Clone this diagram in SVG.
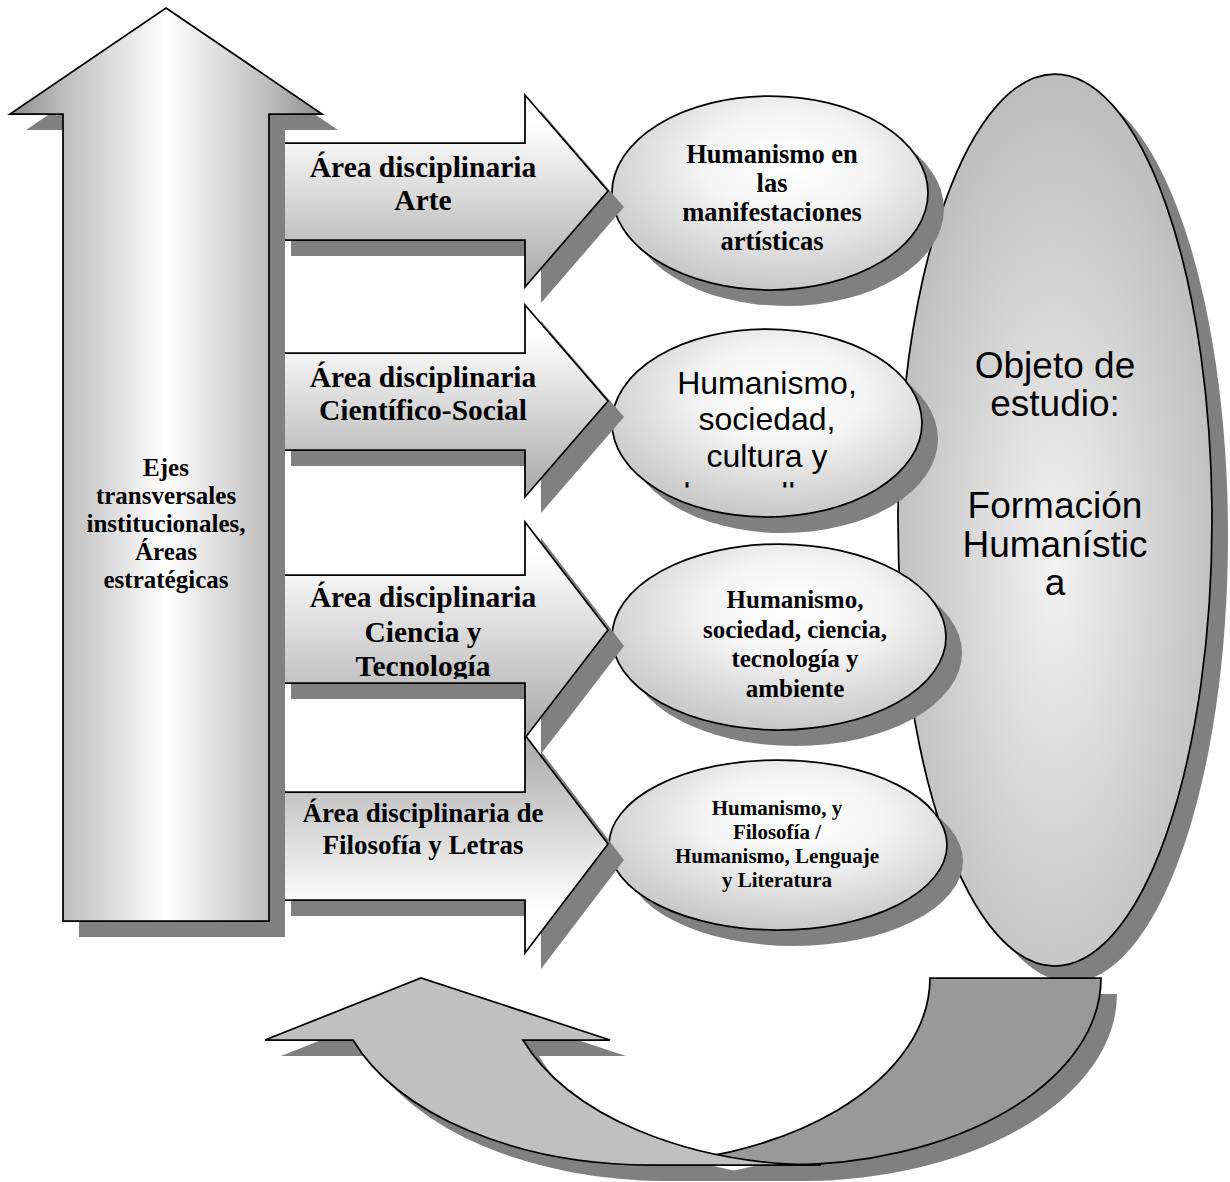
<svg xmlns="http://www.w3.org/2000/svg" width="1230" height="1182" viewBox="0 0 1230 1182">
<style>
.out{stroke:#000;stroke-width:1.75;stroke-linejoin:miter}
.sh{fill:#808080;stroke:none}
.ser{font-family:"Liberation Serif","Times New Roman",serif;font-weight:bold;text-anchor:middle;fill:#000}
.san{font-family:"Liberation Sans",Arial,sans-serif;text-anchor:middle;fill:#000}
.lbl{font-size:29.5px}
</style>
<defs>
<linearGradient id="gUp" x1="0" y1="0" x2="1" y2="0">
<stop offset="0" stop-color="#8c8c8c"/><stop offset="0.17" stop-color="#bdbdbd"/><stop offset="0.5" stop-color="#ffffff"/><stop offset="0.83" stop-color="#bdbdbd"/><stop offset="1" stop-color="#8c8c8c"/>
</linearGradient>
<linearGradient id="gH" x1="0" y1="0" x2="0" y2="1">
<stop offset="0.15" stop-color="#ffffff"/><stop offset="1" stop-color="#a8a8a8"/>
</linearGradient>
<linearGradient id="gHr" x1="0" y1="0" x2="0" y2="1">
<stop offset="0" stop-color="#a8a8a8"/><stop offset="0.8" stop-color="#ffffff"/>
</linearGradient>
<radialGradient id="gE" cx="0.55" cy="0.35" r="0.75">
<stop offset="0" stop-color="#ffffff"/><stop offset="0.35" stop-color="#f4f4f4"/><stop offset="1" stop-color="#bcbcbc"/>
</radialGradient>
<radialGradient id="gBig" cx="0.5" cy="0.55" r="0.55">
<stop offset="0" stop-color="#f2f2f2"/><stop offset="1" stop-color="#bdbdbd"/>
</radialGradient>
<clipPath id="cE2"><rect x="600" y="300" width="330" height="187.5"/></clipPath>
<clipPath id="cA3"><rect x="270" y="570" width="320" height="109"/></clipPath>
</defs>

<g id="objeto">
<ellipse class="sh" cx="1071" cy="536" rx="157" ry="446"/>
<ellipse class="out" cx="1055" cy="520" rx="157" ry="446" fill="url(#gBig)"/>
<text class="san" font-size="37"><tspan x="1055" y="378">Objeto de</tspan><tspan x="1055" y="416">estudio:</tspan><tspan x="1055" y="518">Formación</tspan><tspan x="1055" y="557">Humanístic</tspan><tspan x="1055" y="595">a</tspan></text>
</g>

<g id="e1">
<ellipse class="sh" cx="786" cy="209" rx="158" ry="97"/>
<ellipse class="out" cx="770" cy="193" rx="158" ry="97" fill="url(#gE)"/>
<text class="ser" font-size="26.5"><tspan x="772" y="163">Humanismo en</tspan><tspan x="772" y="192">las</tspan><tspan x="772" y="221">manifestaciones</tspan><tspan x="772" y="250">artísticas</tspan></text>
</g>

<g id="e2">
<ellipse class="sh" cx="783" cy="439" rx="155" ry="94"/>
<ellipse class="out" cx="767" cy="423" rx="155" ry="94" fill="url(#gE)"/>
<text class="san" font-size="32"><tspan x="767" y="394">Humanismo,</tspan><tspan x="767" y="430">sociedad,</tspan><tspan x="767" y="467">cultura y</tspan></text>
<text class="san" font-size="32" x="743" y="505" clip-path="url(#cE2)">desarrollo</text>
</g>

<g id="e3">
<ellipse class="sh" cx="795" cy="653" rx="167" ry="93"/>
<ellipse class="out" cx="779" cy="637" rx="167" ry="93" fill="url(#gE)"/>
<text class="ser" font-size="25"><tspan x="795" y="608">Humanismo,</tspan><tspan x="795" y="638">sociedad, ciencia,</tspan><tspan x="795" y="667">tecnología y</tspan><tspan x="795" y="697">ambiente</tspan></text>
</g>

<g id="e4">
<ellipse class="sh" cx="794" cy="861" rx="169" ry="85"/>
<ellipse class="out" cx="778" cy="845" rx="169" ry="85" fill="url(#gE)"/>
<text class="ser" font-size="21"><tspan x="777" y="815">Humanismo, y</tspan><tspan x="777" y="839">Filosofía /</tspan><tspan x="777" y="863">Humanismo, Lenguaje</tspan><tspan x="777" y="887">y Literatura</tspan></text>
</g>

<g id="connectors">
<path class="sh" d="M946,994 L1117,994 A316 187 0 0 1 801,1181 L630,1181 A316 187 0 0 0 946,994 Z"/>
<path class="out" fill="#999999" d="M930,978 L1101,978 A316 187 0 0 1 785,1165 L614,1165 A316 187 0 0 0 930,978 Z"/>
<path class="sh" d="M369,1056 L281,1056 L437,994 L626,1056 L539,1056 A316 187 0 0 0 837,1181 L667,1181 A316 187 0 0 1 369,1056 Z"/>
<path class="out" fill="#c0c0c0" d="M353,1040 L265,1040 L421,978 L610,1040 L523,1040 A316 187 0 0 0 821,1165 L651,1165 A316 187 0 0 1 353,1040 Z"/>
</g>

<g id="a4">
<polygon class="sh" points="291,808 541,808 541,751 624,860 541,969 541,916 291,916"/>
<polygon class="out" fill="url(#gHr)" points="275,792 525,792 525,735 608,844 525,953 525,900 275,900"/>
<text class="ser" font-size="27"><tspan x="423" y="822">Área disciplinaria de</tspan><tspan x="423" y="854">Filosofía y Letras</tspan></text>
</g>

<g id="a3">
<polygon class="sh" points="291,591 541,591 541,538 624,646 541,754 541,699 291,699"/>
<polygon class="out" fill="url(#gH)" points="275,575 525,575 525,522 608,630 525,738 525,683 275,683"/>
<text class="ser lbl" clip-path="url(#cA3)"><tspan x="423" y="607">Área disciplinaria</tspan><tspan x="423" y="642">Ciencia y</tspan><tspan x="423" y="676">Tecnología</tspan></text>
</g>

<g id="a2">
<polygon class="sh" points="291,369 541,369 541,321 624,417 541,513 541,466 291,466"/>
<polygon class="out" fill="url(#gH)" points="275,353 525,353 525,305 608,401 525,497 525,450 275,450"/>
<text class="ser lbl"><tspan x="423" y="387">Área disciplinaria</tspan><tspan x="423" y="420">Científico-Social</tspan></text>
</g>

<g id="a1">
<polygon class="sh" points="291,159 541,159 541,111 624,207 541,303 541,256 291,256"/>
<polygon class="out" fill="url(#gH)" points="275,143 525,143 525,95 608,191 525,287 525,240 275,240"/>
<text class="ser lbl"><tspan x="423" y="177">Área disciplinaria</tspan><tspan x="423" y="210">Arte</tspan></text>
</g>

<g id="ejes">
<polygon class="sh" points="182,24 338,130 285,130 285,937 79,937 79,130 26,130"/>
<polygon class="out" fill="url(#gUp)" points="166,8 322,114 269,114 269,921 63,921 63,114 10,114"/>
<text class="ser" font-size="25"><tspan x="166" y="476">Ejes</tspan><tspan x="166" y="504">transversales</tspan><tspan x="166" y="532">institucionales,</tspan><tspan x="166" y="560">Áreas</tspan><tspan x="166" y="588">estratégicas</tspan></text>
</g>
</svg>
